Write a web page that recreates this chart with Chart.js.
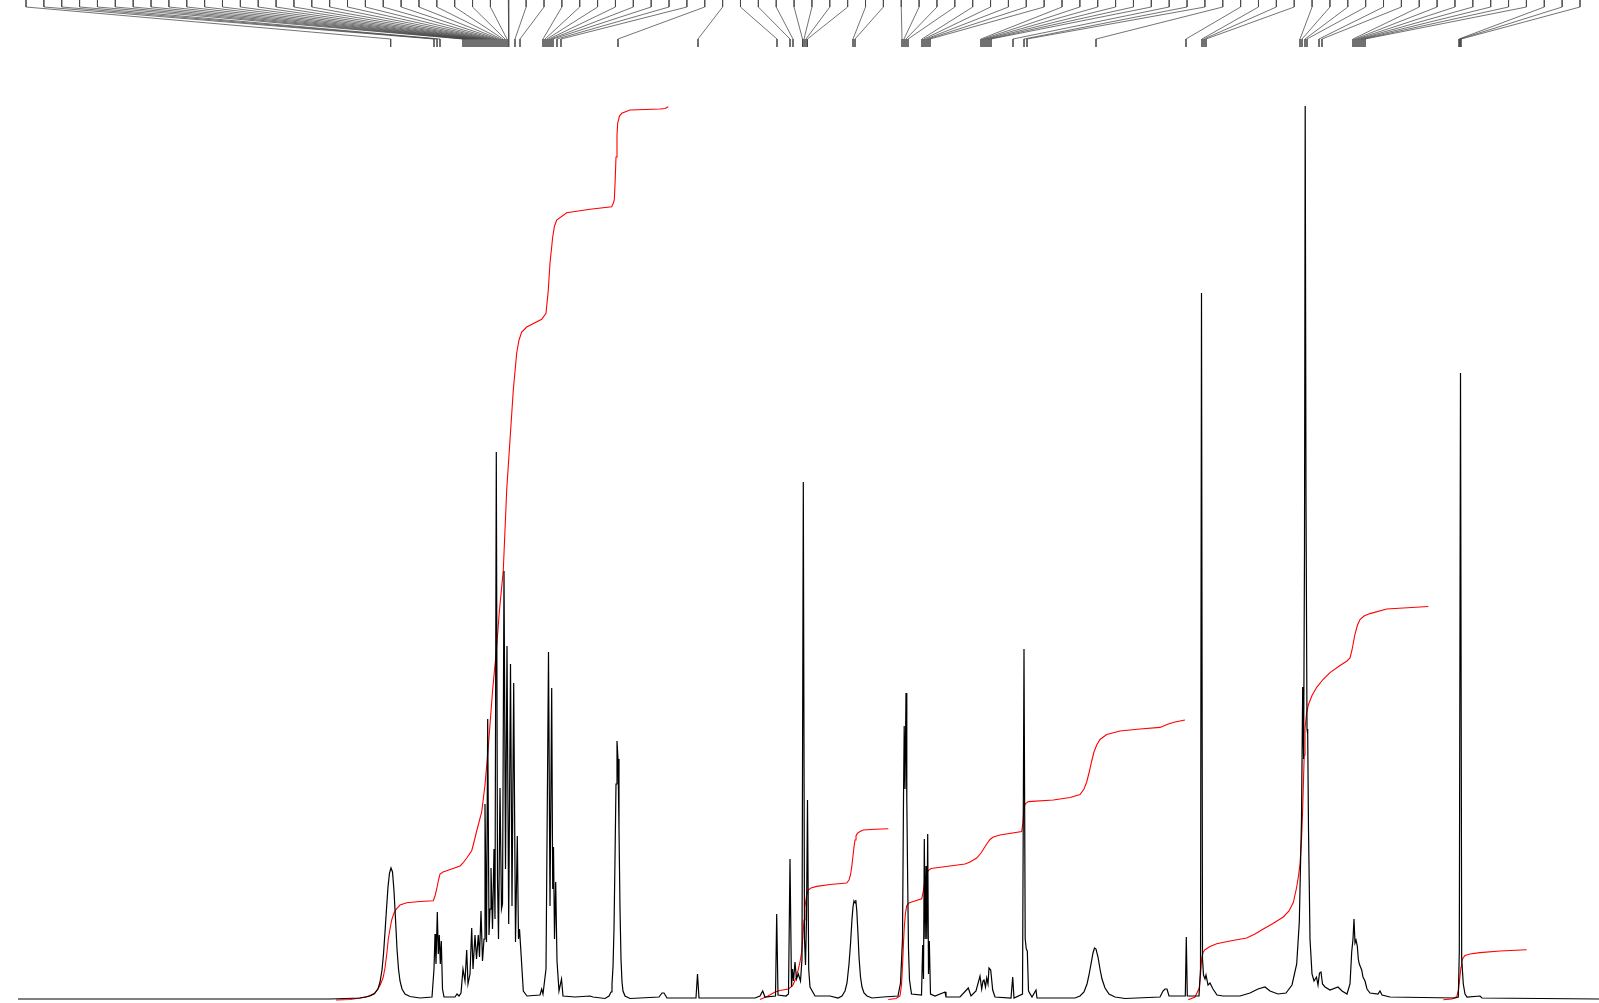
<!DOCTYPE html>
<html>
<head>
<meta charset="utf-8">
<title>1H NMR spectrum</title>
<script src="https://cdn.jsdelivr.net/npm/chart.js@4.4.1/dist/chart.umd.min.js"></script>
<style>
  html, body { margin: 0; padding: 0; background: #ffffff; overflow: hidden; }
  #wrap { position: relative; width: 1599px; height: 1003px; }
</style>
</head>
<body>
<div id="wrap"><canvas id="nmrChart"></canvas></div>
<script>
// ==========================
// DATA (chemical shift in ppm, intensity in arbitrary units)
// ==========================

// spectrum trace, one line per region (shift and intensity lines match)
const shift = [
  15.82, 12.70, 12.40, 12.30, 12.26, 12.22, 12.20, 12.18, 12.165, 12.15, 12.135, 12.12,
  12.105, 12.09, 12.075, 12.06, 12.045, 12.03, 12.015, 12.00, 11.98, 11.95, 11.90, 11.80,
  11.68, 11.66, 11.65, 11.64, 11.627, 11.617, 11.607, 11.597, 11.587, 11.575, 11.56,
  11.45, 11.43, 11.41, 11.39, 11.37, 11.35, 11.333, 11.32, 11.30, 11.283, 11.27, 11.25, 11.235, 11.217, 11.205,
  11.19, 11.175, 11.16, 11.15, 11.135, 11.123, 11.11, 11.10, 11.09, 11.075, 11.06, 11.05, 11.037, 11.025, 11.015,
  11.00, 10.985, 10.975, 10.96, 10.945, 10.93, 10.913, 10.895, 10.88, 10.863, 10.845, 10.827, 10.815, 10.805,
  10.79, 10.767, 10.73, 10.60, 10.583, 10.57, 10.54, 10.515, 10.50, 10.483, 10.473, 10.465, 10.455, 10.443,
  10.43, 10.41, 10.385, 10.37, 10.25, 10.10, 10.07,
  9.95, 9.91, 9.89, 9.88, 9.87, 9.86, 9.85, 9.84, 9.83, 9.82, 9.81, 9.80, 9.79, 9.78, 9.77, 9.75, 9.70, 9.60,
  9.41, 9.38, 9.36, 9.33, 9.04, 9.025, 9.01,
  8.45, 8.40, 8.373, 8.35, 8.245, 8.233, 8.22, 8.14, 8.115, 8.10, 8.085, 8.075, 8.065, 8.05, 8.035, 8.017,
  7.995, 7.98, 7.967, 7.955, 7.945, 7.935, 7.925, 7.913, 7.90, 7.85, 7.70,
  7.62, 7.58, 7.55, 7.53, 7.51, 7.495, 7.48, 7.47, 7.46, 7.45, 7.442, 7.432, 7.42, 7.41, 7.395, 7.38, 7.36, 7.33, 7.28, 7.17,
  7.02, 6.995, 6.975, 6.965, 6.958, 6.95, 6.94, 6.932, 6.923, 6.915, 6.905, 6.885,
  6.785, 6.773, 6.765, 6.757, 6.748, 6.74, 6.732, 6.723, 6.715, 6.707, 6.695, 6.65, 6.55, 6.54, 6.40,
  6.317, 6.29, 6.24, 6.20, 6.183, 6.17, 6.16, 6.145, 6.133, 6.12, 6.11, 6.093, 6.073, 6.05,
  5.89, 5.873, 5.86, 5.775, 5.76, 5.748, 5.737, 5.727, 5.715, 5.68, 5.64, 5.63,
  5.25, 5.20, 5.16, 5.13, 5.11, 5.09, 5.07, 5.055, 5.04, 5.02, 5.00, 4.98, 4.95, 4.91, 4.85, 4.75,
  4.40, 4.37, 4.35, 4.33, 4.31, 4.147, 4.137, 4.127,
  4.01, 3.995, 3.985, 3.975, 3.965, 3.95, 3.94, 3.92, 3.90, 3.87, 3.83, 3.77,
  3.60, 3.50, 3.42, 3.35, 3.30, 3.22, 3.14, 3.08, 3.033, 3.007, 2.985, 2.973, 2.964, 2.955, 2.948, 2.94,
  2.93, 2.923, 2.915, 2.90, 2.88, 2.86, 2.835, 2.82, 2.805, 2.79, 2.775, 2.75, 2.70, 2.62, 2.58, 2.53,
  2.50, 2.483, 2.47, 2.46, 2.45, 2.44, 2.427, 2.417, 2.407, 2.395, 2.383, 2.37, 2.35, 2.33, 2.30, 2.22, 2.20, 2.18, 2.10,
  1.45, 1.417, 1.407, 1.395, 1.383, 1.367, 1.35, 1.33, 1.20, 1.18, 0.01
];
const intensity = [
  0, 0, 0.1, 0.3, 0.5, 1.0, 1.7, 2.9, 4.5, 6.7, 9.0, 11.2,
  12.6, 13.1, 12.7, 10.8, 8.0, 5.0, 3.0, 1.8, 1.0, 0.5, 0.25, 0.1,
  0.2, 3.0, 6.5, 3.5, 8.7, 4.5, 6.4, 3.5, 5.8, 1.0, 0.2,
  0.2, 0.5, 0.3, 0.6, 3.0, 1.8, 4.9, 1.5, 2.5, 7.1, 3.0, 6.4, 4.0, 6.4, 4.2,
  8.8, 3.8, 6.0, 19.5, 5.7, 28.0, 6.4, 9.0, 13.1, 7.0, 15.0, 8.0, 54.7, 12.0, 6.0,
  21.1, 9.0, 9.5, 42.8, 13.0, 35.3, 7.5, 33.5, 9.3, 31.6, 5.7, 16.3, 6.0, 7.0,
  4.6, 0.8, 0.3, 0.4, 1.0, 0.5, 3.0, 34.7, 9.3, 31.1, 11.0, 15.2, 6.0, 11.7,
  3.8, 0.8, 2.0, 0.3, 0.2, 0.3, 0.2,
  0.05, 0.3, 0.7, 1.5, 3.2, 7.0, 14.0, 21.5, 25.8, 24.0, 17.0, 9.0, 4.0, 1.7, 0.8, 0.3, 0.05, 0.1,
  0.2, 0.6, 0.6, 0.1, 0.1, 2.5, 0.1,
  0.1, 0.3, 0.8, 0.2, 0.3, 8.5, 0.4, 0.3, 0.5, 14.0, 1.2, 3.0, 1.8, 3.7, 2.0, 2.5,
  1.8, 4.0, 51.7, 6.0, 3.4, 8.0, 19.9, 3.0, 1.2, 0.3, 0.3,
  0.1, 0.3, 0.8, 1.6, 3.5, 5.5, 8.0, 9.2, 9.8, 9.6, 9.9, 8.8, 6.5, 4.2, 2.2, 1.2, 0.6, 0.3, 0.1, 0.2,
  0.3, 1.6, 6.0, 20.0, 27.3, 21.0, 30.6, 20.0, 11.6, 5.0, 1.9, 0.5,
  0.4, 5.4, 2.0, 16.0, 6.0, 13.3, 6.0, 16.5, 2.5, 5.8, 0.5, 0.3, 0.7, 0.2, 0.2,
  1.1, 0.3, 0.8, 2.3, 1.0, 1.8, 1.9, 1.2, 2.1, 1.5, 3.1, 2.9, 0.9, 0.2,
  0.1, 2.2, 0.1, 0.5, 35.0, 6.0, 5.0, 4.8, 0.8, 0.2, 0.9, 0.1,
  0.1, 0.3, 0.7, 1.5, 2.4, 3.5, 4.6, 5.1, 5.0, 4.2, 3.0, 2.0, 1.1, 0.5, 0.2, 0.05,
  0.2, 0.8, 1.0, 1.0, 0.3, 0.3, 6.2, 0.3,
  0.3, 3.0, 70.6, 4.0, 2.4, 2.0, 2.4, 1.4, 1.6, 1.0, 0.4, 0.3,
  0.3, 0.6, 1.0, 1.2, 0.8, 0.5, 0.6, 1.4, 3.5, 7.7, 18.0, 31.2, 24.0, 45.0, 89.3, 50.0,
  27.0, 26.5, 17.0, 6.0, 2.5, 1.8, 2.2, 1.4, 2.6, 2.7, 1.5, 1.2, 0.9, 1.2, 0.8, 0.5,
  1.5, 4.7, 6.0, 8.0, 5.6, 5.9, 5.3, 4.0, 3.5, 3.2, 2.9, 2.2, 1.8, 1.0, 0.6, 0.5, 0.8, 0.4, 0.2,
  0.1, 0.2, 4.7, 62.6, 4.0, 1.5, 0.5, 0.2, 0.3, 0.1, 0
];

// integral curves (shift, cumulative value)
const int1Shift = [
  12.64, 12.50, 12.333, 12.25, 12.20, 12.17, 12.15, 12.13, 12.117, 12.10, 12.083, 12.06, 12.033, 12.00, 11.933, 11.80,
  11.667, 11.65, 11.633, 11.615, 11.60, 11.57, 11.533, 11.40, 11.37, 11.333, 11.283, 11.26, 11.233, 11.183, 11.15,
  11.117, 11.073, 11.033, 11.007, 10.967, 10.933, 10.90, 10.867, 10.833, 10.81, 10.783, 10.733, 10.583, 10.54,
  10.517, 10.50, 10.473, 10.455, 10.433, 10.333, 10.10, 9.883, 9.867, 9.857, 9.848, 9.84, 9.83, 9.823, 9.805,
  9.783, 9.70, 9.40, 9.35, 9.317
];
const int1Value = [
  -0.1, -0.05, 0.2, 0.6, 1.35, 2.1, 3.1, 4.7, 6.0, 7.0, 7.9, 8.6, 9.05, 9.4, 9.63, 9.75,
  9.82, 10.3, 11.0, 11.9, 12.5, 12.7, 12.83, 13.3, 13.6, 14.1, 14.83, 15.7, 16.8, 18.7, 21.4,
  25.2, 31.0, 35.2, 38.7, 42.9, 50.9, 55.9, 60.9, 64.6, 65.9, 66.7, 67.2, 67.97, 68.57,
  70.9, 73.6, 76.2, 77.3, 77.9, 78.63, 78.97, 79.23, 79.6, 79.9, 81.9, 84.2, 86.4, 87.6, 88.3,
  88.57, 88.9, 89.0, 89.05, 89.23
];

const int2Shift = [
  8.40, 8.32, 8.25, 8.20, 8.117, 8.09, 8.07, 8.04, 8.017, 8.00, 7.983, 7.97, 7.96, 7.95, 7.94, 7.93, 7.917,
  7.89, 7.833, 7.70, 7.533, 7.51, 7.495, 7.483, 7.47, 7.46, 7.45, 7.44, 7.427, 7.40, 7.367, 7.25, 7.117
];
const int2Value = [
  -0.05, 0.3, 0.7, 0.85, 1.0, 1.2, 1.4, 2.1, 2.96, 3.7, 4.72, 6.4, 7.9, 9.2, 10.0, 10.5, 10.9,
  11.1, 11.26, 11.45, 11.6, 11.9, 12.4, 13.2, 14.3, 15.2, 15.9, 16.3, 16.56, 16.75, 16.9, 16.97, 17.02
];

const int3Shift = [
  7.117, 7.04, 7.00, 6.985, 6.973, 6.965, 6.957, 6.945, 6.933, 6.91, 6.883, 6.783, 6.765, 6.75, 6.735, 6.717,
  6.69, 6.633, 6.50, 6.35, 6.30, 6.233, 6.19, 6.133, 6.10, 6.067, 6.00, 5.783, 5.77, 5.76, 5.745, 5.717,
  5.467, 5.30, 5.20, 5.16, 5.133, 5.11, 5.083, 5.06, 5.033, 5.00, 4.933, 4.80, 4.60, 4.40, 4.317, 4.25, 4.15
];
const int3Value = [
  -0.05, 0.05, 0.3, 1.4, 3.7, 5.6, 7.2, 8.6, 9.32, 9.6, 9.7, 10.02, 10.9, 11.97, 12.5, 12.85,
  13.05, 13.13, 13.3, 13.5, 13.7, 14.1, 14.6, 15.5, 15.95, 16.2, 16.4, 16.74, 17.7, 19.2, 19.55, 19.74,
  19.9, 20.15, 20.45, 21.0, 21.7, 22.6, 23.8, 24.7, 25.4, 25.95, 26.45, 26.8, 27.0, 27.16, 27.51, 27.7, 27.9
];

const int4Shift = [
  4.117, 4.05, 4.007, 3.995, 3.983, 3.97, 3.95, 3.90, 3.833, 3.70, 3.533, 3.45, 3.367, 3.27, 3.167, 3.11,
  3.067, 3.035, 3.015, 3.00, 2.985, 2.975, 2.967, 2.958, 2.95, 2.935, 2.917, 2.88, 2.833, 2.77, 2.70, 2.60,
  2.53, 2.50, 2.48, 2.465, 2.45, 2.425, 2.40, 2.36, 2.30, 2.133, 1.717
];
const int4Value = [
  -0.08, 0.2, 1.1, 2.4, 4.05, 4.65, 4.93, 5.25, 5.52, 5.8, 6.1, 6.5, 7.0, 7.55, 8.2, 8.8,
  9.65, 11.1, 12.3, 13.5, 15.9, 18.4, 21.15, 24.4, 27.04, 28.5, 29.4, 30.35, 31.17, 31.95, 32.64, 33.35,
  33.8, 34.1, 34.9, 35.7, 36.5, 37.4, 37.95, 38.3, 38.54, 39.0, 39.25
];

const int5Shift = [1.567, 1.48, 1.433, 1.415, 1.40, 1.39, 1.383, 1.37, 1.35, 1.30, 1.20, 1.00, 0.733];
const int5Value = [-0.08, 0, 0.22, 0.9, 2.3, 3.2, 3.75, 4.1, 4.34, 4.5, 4.64, 4.8, 4.93];

// picked peaks (ppm)
const peakShifts = [
  12.093,
  11.66, 11.63, 11.60,
  11.37, 11.35, 11.33, 11.31, 11.29, 11.27, 11.25, 11.23, 11.21, 11.19, 11.17, 11.15,
  11.13, 11.11, 11.09, 11.07, 11.05, 11.03, 11.01, 10.99, 10.97, 10.95, 10.93, 10.91,
  10.85, 10.80,
  10.57, 10.55, 10.53, 10.51, 10.49, 10.47, 10.43, 10.39,
  9.82, 9.02, 8.23, 8.10, 8.07,
  7.975, 7.96, 7.94, 7.925,
  7.47, 7.45,
  6.98, 6.96, 6.94, 6.92,
  6.78, 6.76, 6.74, 6.72, 6.70,
  6.19, 6.17, 6.15, 6.13, 6.11, 6.09,
  5.87, 5.76, 5.73, 5.04, 4.14,
  3.98, 3.96, 3.94,
  3.00, 2.98, 2.95, 2.93,
  2.81, 2.78,
  2.47, 2.45, 2.43, 2.41, 2.39, 2.37, 2.35,
  1.41, 1.40, 1.39
];

// ==========================
// HELPERS
// ==========================

function pairs(xs, ys) {
  return xs.map((x, i) => ({ x: x, y: ys[i] }));
}

// leader lines: evenly spaced label slots at the top, bent down to each peak
const slotLeft = 15.74;
const slotRight = 0.20;
const yTop = 100.5;
const yKnee = 99.2;
const ySlant = 96.0;
const yBottom = 95.2;

const leaderPoints = [];
peakShifts.forEach((p, i) => {
  const slot = slotLeft - i * (slotLeft - slotRight) / (peakShifts.length - 1);
  leaderPoints.push({ x: slot, y: yTop });
  leaderPoints.push({ x: slot, y: yKnee });
  leaderPoints.push({ x: p, y: ySlant });
  leaderPoints.push({ x: p, y: yBottom });
  leaderPoints.push({ x: p, y: null });
});

function integralSet(xs, ys) {
  return {
    data: pairs(xs, ys),
    borderColor: '#ff0000',
    borderWidth: 1.1,
    pointRadius: 0,
    showLine: true,
    tension: 0
  };
}

// ==========================
// CHART
// ==========================

const ctx = document.getElementById('nmrChart');

new Chart(ctx, {

    type: 'scatter',

    data: {

        datasets: [

            {
                label: 'spectrum',
                data: pairs(shift, intensity),
                borderColor: '#000000',
                borderWidth: 1.2,
                pointRadius: 0,
                showLine: true,
                tension: 0
            },

            integralSet(int1Shift, int1Value),
            integralSet(int2Shift, int2Value),
            integralSet(int3Shift, int3Value),
            integralSet(int4Shift, int4Value),
            integralSet(int5Shift, int5Value),

            {
                label: 'peaks',
                data: leaderPoints,
                borderColor: '#444444',
                borderWidth: 0.75,
                pointRadius: 0,
                showLine: true,
                spanGaps: false,
                tension: 0
            }

        ]

    },

    options: {

        responsive: true,

        maintainAspectRatio: false,

        animation: false,

        layout: { padding: 0 },

        plugins: {
            legend: { display: false },
            tooltip: { enabled: false }
        },

        scales: {

            x: {
                type: 'linear',
                reverse: true,
                min: 0.01,
                max: 16,
                display: false
            },

            y: {
                min: -0.4,
                max: 99.9,
                display: false
            }

        }

    }

});
</script>
</body>
</html>
